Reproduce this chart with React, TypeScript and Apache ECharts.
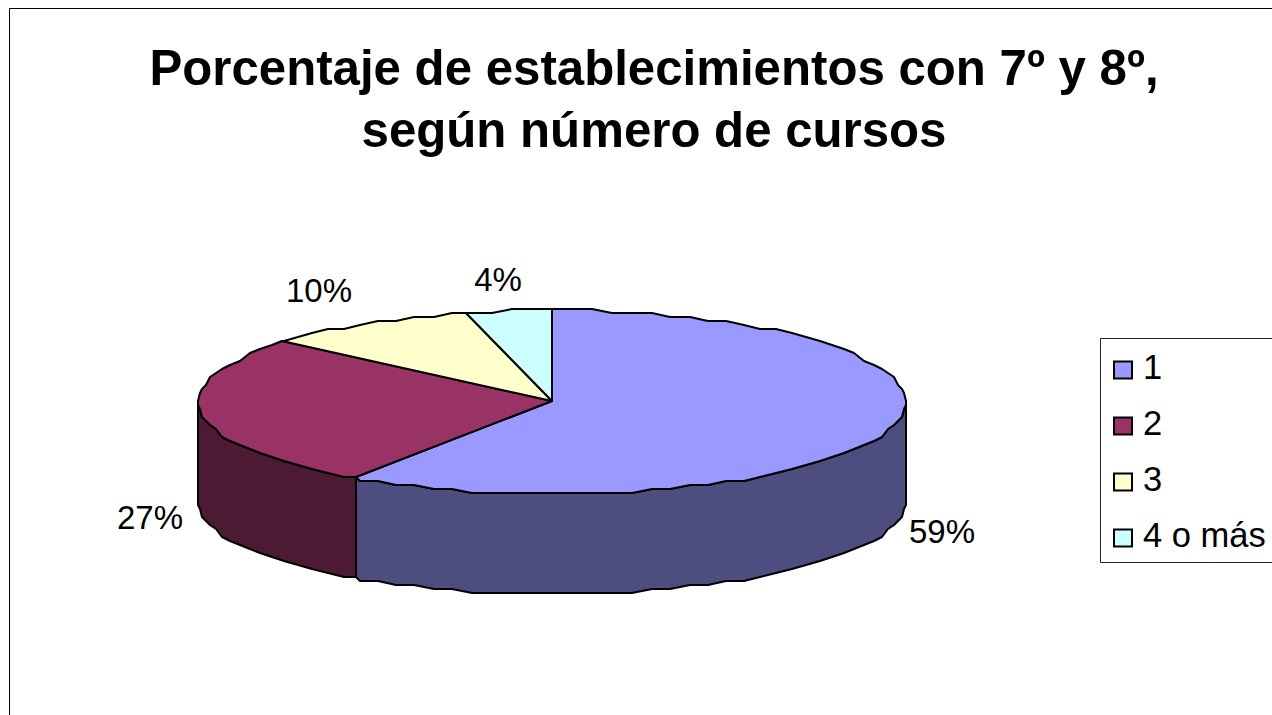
import React, { useEffect, useRef } from "react";
import * as echarts from "echarts";

const categories = ["1", "2", "3", "4 o más"];
const values = [59.3, 26.9, 9.9, 3.9];
const topColors = ["#9999FF", "#993366", "#FFFFCC", "#CCFFFF"];
const sideColors = ["#4D4D80", "#4D1A33", "#808066", "#668080"];
const titleLines = ["Porcentaje de establecimientos con 7º y 8º,", "según número de cursos"];
const labelPos = [[942, 531], [150, 517], [319, 290], [498, 279]];

const FONT = "'Liberation Sans', Arial, sans-serif";
const CX = 552, CY = 401, RX = 353.5, RY = 92, DEPTH = 100;
const total = values.reduce((a, b) => a + b, 0);
const snapX = 2, snapY = 4;

function pt(theta: number, dy = 0): number[] {
  const x = CX + RX * Math.sin(theta);
  const y = CY - RY * Math.cos(theta);
  return [Math.round(x / snapX) * snapX, Math.round(y / snapY) * snapY + 1 + dy];
}

function arc(a0: number, a1: number, dy = 0): number[][] {
  const step = (Math.PI * 2) / 110;
  const out: number[][] = [pt(a0, dy)];
  let k = Math.floor(a0 / step) + 1;
  while (k * step < a1 - 1e-6) {
    out.push(pt(k * step, dy));
    k++;
  }
  out.push(pt(a1, dy));
  return out;
}

function makeRenderItem(index: number) {
  const before = values.slice(0, index).reduce((a, b) => a + b, 0);
  return (_params: any, api: any) => {
    const v = api.value(0);
    const a0 = (before / total) * Math.PI * 2;
    const a1 = ((before + v) / total) * Math.PI * 2;
    const children: any[] = [];
    const s0 = Math.max(a0, Math.PI / 2);
    const s1 = Math.min(a1, (Math.PI * 3) / 2);
    if (s1 > s0) {
      const upper = arc(s0, s1);
      const lower = arc(s0, s1, DEPTH).reverse();
      children.push({
        type: "polygon",
        shape: { points: upper.concat(lower) },
        style: { fill: sideColors[index], stroke: "#000", lineWidth: 2, lineJoin: "round" },
      });
    }
    const c = [CX, CY];
    children.push({
      type: "polygon",
      shape: { points: [c, ...arc(a0, a1)] },
      style: { fill: topColors[index], stroke: "#000", lineWidth: 2, lineJoin: "round" },
    });
    children.push({
      type: "text",
      style: {
        text: `${Math.round(v)}%`,
        x: labelPos[index][0],
        y: labelPos[index][1],
        align: "center",
        verticalAlign: "middle",
        font: `33px ${FONT}`,
        fill: "#000",
      },
    });
    return { type: "group", children };
  };
}

export default function App() {
  const ref = useRef<HTMLDivElement>(null);
  useEffect(() => {
    const chart = echarts.init(ref.current!, undefined, { renderer: "svg" });
    chart.setOption({
      animation: false,
      backgroundColor: "#fff",
      title: {
        text: titleLines.join("\n"),
        left: 649,
        top: 31.5,
        textAlign: "center",
        textStyle: { fontFamily: FONT, fontWeight: "bold", fontSize: 49.2, lineHeight: 62, color: "#000" },
      },
      legend: {
        orient: "vertical",
        left: 1113,
        top: 349.5,
        padding: 0,
        data: categories,
        icon: "rect",
        itemWidth: 18,
        itemHeight: 17,
        itemGap: 21,
        itemStyle: { borderColor: "#000", borderWidth: 2 },
        formatter: "{a|{name}}",
        textStyle: {
          fontFamily: FONT,
          fontSize: 34.5,
          color: "#000",
          rich: {
            a: {
              fontFamily: FONT,
              fontSize: 34.5,
              color: "#000",
              height: 34,
              lineHeight: 40,
              verticalAlign: "top",
              padding: [0, 0, 0, 6],
            },
          },
        },
        selectedMode: false,
      },
      graphic: [
        { type: "rect", silent: true, z: -1, shape: { x: 9.5, y: 8.5, width: 1400, height: 900 }, style: { fill: "none", stroke: "#000", lineWidth: 1 } },
        { type: "rect", silent: true, z: -1, shape: { x: 1100.5, y: 338.5, width: 300, height: 224 }, style: { fill: "#fff", stroke: "#222", lineWidth: 1 } },
      ],
      series: categories.map((name, i) => ({
        type: "custom",
        name,
        coordinateSystem: "none",
        itemStyle: { color: topColors[i] },
        data: [[values[i]]],
        renderItem: makeRenderItem(i),
      })),
    });
    return () => chart.dispose();
  }, []);
  return <div ref={ref} style={{ position: "absolute", left: 0, top: 0, width: 1272, height: 715, overflow: "hidden" }} />;
}
